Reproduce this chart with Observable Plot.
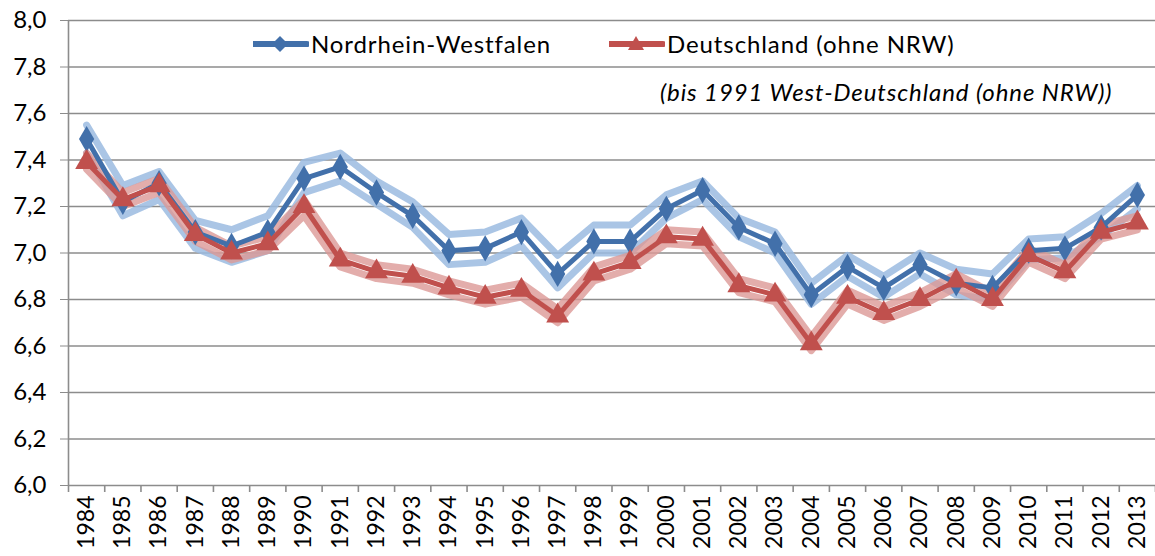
<!DOCTYPE html>
<html>
<head>
<meta charset="utf-8">
<script src="https://cdn.jsdelivr.net/npm/d3@7"></script>
<script src="https://cdn.jsdelivr.net/npm/@observablehq/plot@0.6"></script>
<style>
  html, body { margin: 0; padding: 0; background: #fff; }
  #wrap { position: relative; width: 1155px; height: 556px; font-family: Lato, "Open Sans", sans-serif; }
  #legend { position: absolute; left: 0; top: 0; width: 1155px; height: 0; }
  .item { position: absolute; top: 29px; display: flex; align-items: center; font-size: 24px; letter-spacing: 0.9px; color: #000; white-space: nowrap; }
  #sub { position: absolute; left: 660px; top: 77px; font-size: 24px; letter-spacing: 0.9px; font-style: italic; color: #000; white-space: nowrap; }
</style>
</head>
<body>
<div id="wrap">
  <div id="chart"></div>
  <div id="legend"></div>
</div>
<script>
const years = [1984,1985,1986,1987,1988,1989,1990,1991,1992,1993,1994,1995,1996,1997,1998,1999,2000,2001,2002,2003,2004,2005,2006,2007,2008,2009,2010,2011,2012,2013];

const nrw   = [7.49,7.22,7.30,7.09,7.03,7.09,7.32,7.37,7.26,7.16,7.01,7.02,7.09,6.91,7.05,7.05,7.19,7.27,7.11,7.04,6.82,6.94,6.85,6.95,6.87,6.85,7.01,7.02,7.11,7.25];
const nrwHi = [7.55,7.29,7.35,7.14,7.10,7.16,7.39,7.43,7.31,7.22,7.08,7.09,7.15,6.99,7.12,7.12,7.25,7.31,7.15,7.09,6.87,6.99,6.90,7.00,6.93,6.91,7.06,7.07,7.17,7.29];
const nrwLo = [7.43,7.16,7.23,7.02,6.96,7.01,7.26,7.31,7.21,7.11,6.95,6.96,7.03,6.85,7.00,7.00,7.15,7.23,7.07,7.00,6.78,6.90,6.81,6.91,6.82,6.80,6.97,6.98,7.07,7.19];

const de    = [7.39,7.23,7.29,7.08,7.00,7.04,7.20,6.97,6.92,6.90,6.85,6.81,6.84,6.73,6.91,6.96,7.07,7.06,6.86,6.82,6.61,6.81,6.74,6.80,6.88,6.80,6.99,6.92,7.09,7.13];
const deHi  = [7.43,7.26,7.32,7.11,7.03,7.07,7.23,7.00,6.95,6.93,6.88,6.84,6.87,6.76,6.94,6.99,7.10,7.09,6.89,6.85,6.64,6.84,6.77,6.83,6.91,6.83,7.02,6.95,7.12,7.16];
const deLo  = [7.36,7.20,7.26,7.05,6.97,7.01,7.16,6.94,6.89,6.87,6.82,6.78,6.81,6.70,6.88,6.93,7.04,7.03,6.83,6.79,6.58,6.78,6.71,6.77,6.85,6.77,6.96,6.89,7.06,7.10];

const yTicks = [6.0,6.2,6.4,6.6,6.8,7.0,7.2,7.4,7.6,7.8,8.0];
const seriesNames = ["Nordrhein-Westfalen", "Deutschland (ohne NRW)"];
const subtitle = "(bis 1991 West-Deutschland (ohne NRW))";

const blue = "#4270AA", blueLight = "#9BBBE0";
const red = "#C0504D", redLight = "#DC9896";

const rows = (vals) => years.map((yr, i) => ({year: yr, v: vals[i]}));
const boundaries = years.map(y => y - 0.5).concat([years[years.length - 1] + 0.5]);
const fmt = d => d.toFixed(1).replace(".", ",");

const chart = Plot.plot({
  width: 1155,
  height: 556,
  marginLeft: 68,
  marginRight: 0,
  marginTop: 20,
  marginBottom: 71,
  style: {fontFamily: "Lato, 'Open Sans', sans-serif", color: "#000", background: "#fff"},
  x: {type: "linear", domain: [boundaries[0], boundaries[boundaries.length - 1]]},
  y: {domain: [yTicks[0], yTicks[yTicks.length - 1]]},
  marks: [
    Plot.gridY(yTicks, {stroke: "#8c8c8c", strokeOpacity: 1, strokeWidth: 1.6}),
    Plot.ruleX([boundaries[0]], {y1: yTicks[0], y2: yTicks[yTicks.length - 1], stroke: "#8c8c8c", strokeWidth: 1.6}),
    Plot.axisY(yTicks, {tickSize: 8, tickPadding: 14, stroke: "#8c8c8c", tickFormat: fmt, fontSize: 24, label: null, color: "#000"}),
    Plot.axisX(boundaries, {tickSize: 7, tickFormat: () => "", stroke: "#8c8c8c", strokeWidth: 1.6, label: null}),
    Plot.axisX(years, {tickSize: 0, tickPadding: 10, tickRotate: -90, fontSize: 23, tickFormat: d => String(d), label: null}),
    // confidence bands
    Plot.line(rows(nrwHi), {x: "year", y: "v", stroke: blueLight, strokeWidth: 7, strokeOpacity: 0.85}),
    Plot.line(rows(nrwLo), {x: "year", y: "v", stroke: blueLight, strokeWidth: 7, strokeOpacity: 0.85}),
    Plot.line(rows(deHi), {x: "year", y: "v", stroke: redLight, strokeWidth: 7, strokeOpacity: 0.8}),
    Plot.line(rows(deLo), {x: "year", y: "v", stroke: redLight, strokeWidth: 7, strokeOpacity: 0.8}),
    // main series
    Plot.line(rows(nrw), {x: "year", y: "v", stroke: blue, strokeWidth: 5}),
    Plot.dot(rows(nrw), {x: "year", y: "v", symbol: "diamond", r: 8, fill: blue, stroke: "none"}),
    Plot.line(rows(de), {x: "year", y: "v", stroke: red, strokeWidth: 5}),
    Plot.dot(rows(de), {x: "year", y: "v", symbol: "triangle", r: 8.5, fill: red, stroke: "none"})
  ]
});
document.getElementById("chart").appendChild(chart);

// legend
const legend = document.getElementById("legend");
const items = [
  {name: seriesNames[0], color: blue, left: 253, shape: "diamond"},
  {name: seriesNames[1], color: red, left: 609, shape: "triangle"}
];
for (const it of items) {
  const div = document.createElement("div");
  div.className = "item";
  div.style.left = it.left + "px";
  const marker = it.shape === "diamond"
    ? `<polygon points="27,3 35,11 27,19 19,11" fill="${it.color}"/>`
    : `<polygon points="27,3 35,17 19,17" fill="${it.color}"/>`;
  div.innerHTML = `<svg width="56" height="22" style="margin-right:2px"><line x1="1" y1="11" x2="54" y2="11" stroke="${it.color}" stroke-width="6" stroke-linecap="round"/>${marker}</svg><span>${it.name}</span>`;
  legend.appendChild(div);
}
const sub = document.createElement("div");
sub.id = "sub";
sub.textContent = subtitle;
legend.appendChild(sub);
</script>
</body>
</html>
